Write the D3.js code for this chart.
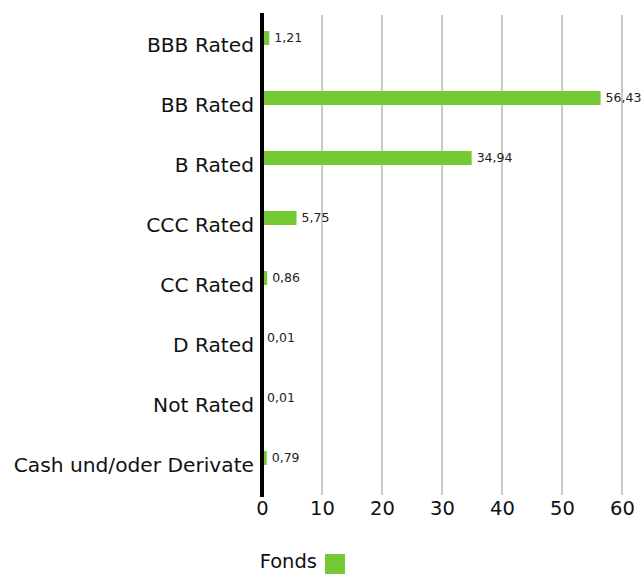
<!DOCTYPE html>
<html><head><meta charset="utf-8">
<script src="https://cdn.jsdelivr.net/npm/d3@7"></script>
<style>body{margin:0;background:#fff;} svg{display:block;font-family:"DejaVu Sans",sans-serif;}</style>
</head><body><svg id="c" width="643" height="574"></svg>
<script>
const categories = ["BBB Rated","BB Rated","B Rated","CCC Rated","CC Rated","D Rated","Not Rated","Cash und/oder Derivate"];
const values = [1.21,56.43,34.94,5.75,0.86,0.01,0.01,0.79];
const valueLabels = ["1,21","56,43","34,94","5,75","0,86","0,01","0,01","0,79"];
const ticks = [0,10,20,30,40,50,60];
const seriesName = "Fonds";
const color = "#74c935";
const font = "DejaVu Sans";

const svg = d3.select("#c");
const x = d3.scaleLinear().domain([0,60]).range([262,622]);
const y = d3.scaleBand().domain(categories).range([16,496]);

// gridlines
svg.append("g").selectAll("line").data(ticks.filter(t=>t>0)).join("line")
  .attr("x1",d=>x(d)).attr("x2",d=>x(d)).attr("y1",15).attr("y2",495)
  .attr("stroke","#c8c8c8").attr("stroke-width",2);

// bars
svg.append("g").selectAll("rect").data(values).join("rect")
  .attr("x",x(0)).attr("y",(d,i)=>y(categories[i])+y.bandwidth()/2-15)
  .attr("width",d=>x(d)-x(0)).attr("height",14).attr("fill",color);

// value labels
svg.append("g").selectAll("text").data(values).join("text")
  .attr("x",d=>x(d)+5).attr("y",(d,i)=>y(categories[i])+y.bandwidth()/2-8)
  .attr("dominant-baseline","middle").attr("font-size",12.5).attr("fill","#222")
  .attr("font-family",font)
  .text((d,i)=>valueLabels[i]);

// zero axis
svg.append("line").attr("x1",x(0)).attr("x2",x(0)).attr("y1",13).attr("y2",497)
  .attr("stroke","#000").attr("stroke-width",4);

// category labels
const yAxis = d3.axisLeft(y).tickSize(0).tickPadding(0);
const gy = svg.append("g").attr("transform","translate(254,0)").call(yAxis);
gy.select(".domain").remove();
gy.selectAll("text").attr("font-size",20.2).attr("fill","#111").attr("font-family",font);

// x axis labels
const xAxis = d3.axisBottom(x).tickValues(ticks).tickSize(0).tickPadding(0).tickFormat(d3.format("d"));
const gx = svg.append("g").attr("transform","translate(0,497)").call(xAxis);
gx.select(".domain").remove();
gx.selectAll("text").attr("font-size",19.5).attr("fill","#111").attr("dy","0.9em").attr("font-family",font);

// legend
svg.append("text").attr("x",317).attr("y",568).attr("text-anchor","end")
  .attr("font-size",19.5).attr("fill","#111").attr("font-family",font).text(seriesName);
svg.append("rect").attr("x",325).attr("y",554).attr("width",20).attr("height",20).attr("fill",color);
</script></body></html>
